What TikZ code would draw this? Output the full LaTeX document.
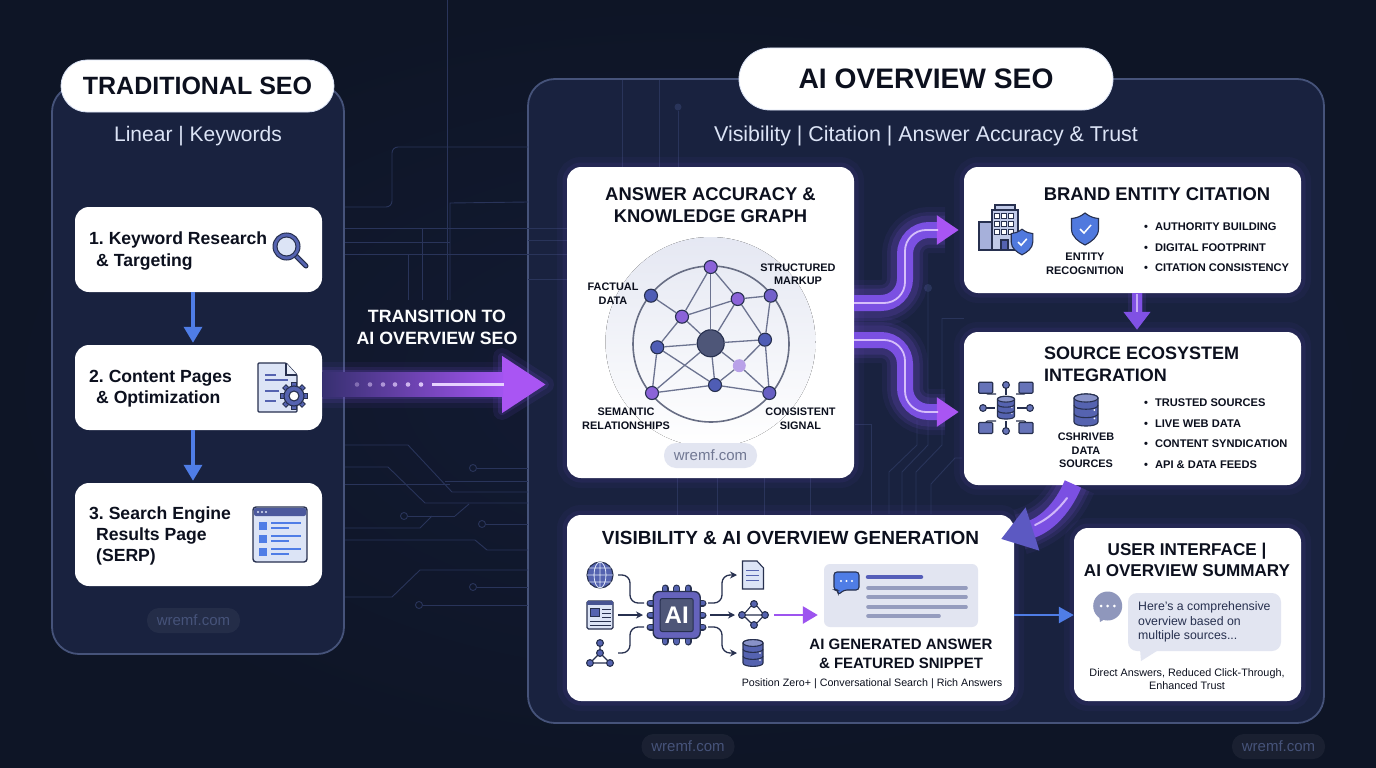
\documentclass[tikz,border=0pt]{standalone}
\usepackage{fontspec}
\setmainfont{Liberation Sans}
\frenchspacing
\usepackage{xcolor}
\usetikzlibrary{arrows.meta,shapes.geometric,positioning}

\definecolor{bgdark}{HTML}{0E1526}
\definecolor{bgmid}{HTML}{131B34}
\definecolor{panelfill}{HTML}{19223F}
\definecolor{panelline}{HTML}{46537A}
\definecolor{traceline}{HTML}{29345A}
\definecolor{inkdark}{HTML}{0C101E}
\definecolor{iconink}{HTML}{27304F}
\definecolor{iconblue}{HTML}{5563B0}
\definecolor{iconpale}{HTML}{DCE4F6}
\definecolor{stepblue}{HTML}{4F7DE6}
\definecolor{flowpurple}{HTML}{7B50E2}
\definecolor{flowhead}{HTML}{A955F3}
\definecolor{flowcore}{HTML}{E6D2FF}
\definecolor{nodepurple}{HTML}{8B63D8}
\definecolor{nodeblue}{HTML}{4F5DB5}
\definecolor{hubgrey}{HTML}{4E5678}
\definecolor{softgrey}{HTML}{E2E5F1}

\tikzset{
    lab/.style 2 args={font=\bfseries\fontsize{#1}{#2}\selectfont, inner sep=0pt, text=inkdark, align=center},
    plain/.style 2 args={font=\fontsize{#1}{#2}\selectfont, inner sep=0pt, text=inkdark, align=center},
    panel/.style={draw=panelline, line width=1.8pt, fill=panelfill, rounded corners=27pt},
    card/.style={fill=white, rounded corners=14pt, inner sep=0pt},
    glowcard/.style={card, preaction={draw=flowpurple, draw opacity=.05, line width=20pt}, preaction={draw=flowpurple, draw opacity=.08, line width=9pt}},
    pill/.style={fill=white, draw=iconpale, line width=.8pt, inner sep=0pt},
    wmark/.style={fill=white, fill opacity=.05, text opacity=1, rounded corners=12pt, minimum width=93pt, minimum height=25pt, inner sep=0pt, text=panelline, font=\fontsize{15}{15}\selectfont},
    trace/.style={draw=traceline, line width=.9pt},
    tracedot/.style={draw=traceline, line width=.9pt, circle, minimum size=7pt, inner sep=0pt},
    stepflow/.style={draw=stepblue, line width=3.5pt, shorten >=2pt, -{Triangle[length=16pt,width=18pt]}},
    flowpipe/.style={draw=flowpurple, line width=16pt, rounded corners=24pt, -{Triangle[length=22pt,width=28pt,fill=flowhead,color=flowhead]}},
    flowthin/.style={draw=flowcore, line width=1.8pt, draw opacity=.85, rounded corners=21pt},
    gnode/.style={circle, draw=iconink, line width=1.1pt, minimum size=13pt, inner sep=0pt},
    iconline/.style={draw=iconink, line width=1.1pt},
    smallflow/.style={draw=iconink, line width=1.3pt, rounded corners=8pt},
    pics/dbicon/.style={code={
        \path[iconline, fill=iconblue] (-10,-10) -- (-10,10) .. controls (-10,14.5) and (10,14.5) .. (10,10) -- (10,-10) .. controls (10,-14.5) and (-10,-14.5) .. (-10,-10) -- cycle;
        \path[iconline, fill=iconblue!70!white] (0,-10) ellipse[x radius=10, y radius=3.4];
        \foreach \t in {-4,3} {
            \draw[iconline] (-10,\t) .. controls (-10,\t+4.5) and (10,\t+4.5) .. (10,\t);
            \fill[white] (7,\t+4) circle[radius=.8];
        }
    }},
    pics/shieldicon/.style={code={
        \path[iconline, fill=stepblue!85!iconblue] (0,-16) .. controls (5,-12) and (9,-11) .. (13.5,-10.5) -- (13.5,0) .. controls (13.5,8) and (6,13) .. (0,16) .. controls (-6,13) and (-13.5,8) .. (-13.5,0) -- (-13.5,-10.5) .. controls (-9,-11) and (-5,-12) .. (0,-16) -- cycle;
        \draw[white, line width=1.5pt] (-5,0) -- (-1,4) -- (6,-4);
    }},
    pics/nodetrio/.style={code={
        \draw[iconline] (0,-10) -- (0,0) -- (-10,10) -- (10,10) -- (0,0);
        \foreach \p in {(0,-10),(0,0),(-10,10),(10,10)}
            \path[iconline, fill=iconblue] \p circle[radius=3.4];
    }}
}

\begin{document}
\begin{tikzpicture}[x=1pt,y=-1pt]
    \useasboundingbox (0,0) rectangle (1376,768);
    \fill[inner color=bgmid, outer color=bgdark] (0,0) rectangle (1376,768);

    % ends of the big connectors
    \coordinate (trstart) at (322,384.5);
    \coordinate (trend) at (546,384.5);
    \coordinate (kout1) at (854,303);
    \coordinate (kout2) at (854,340);
    \coordinate (srcout) at (1073,484);
    \coordinate (vistip) at (1001,539);

    \node[panel, minimum width=292pt, minimum height=569pt] (leftpanel) at (198,369.5) {};
    \node[panel, minimum width=796pt, minimum height=644pt] (rightpanel) at (926,401) {};

    % circuit traces
    \draw[trace] (447,0) -- (447,300);
    \draw[trace, rounded corners=6pt] (345,207) -- (392,207) -- (392,147) -- (528,147);
    \draw[trace] (450,300) -- (450,203) -- (528,202);
    \foreach \y in {228,254} \draw[trace] (345,\y) -- (567,\y);
    \foreach \y in {240,279} \draw[trace] (528,\y) -- (567,\y);
    \draw[trace] (345,242) -- (450,242);
    \draw[trace] (422,228) -- (422,300);
    \draw[trace] (408,254) -- (408,300);
    \foreach \x in {622,659} \draw[trace] (\x,80) -- (\x,167);
    \node[fill=traceline, circle, minimum size=7pt, inner sep=0pt] (panelpin) at (678,107) {};
    \draw[trace] (panelpin) -- (678,167);
    \draw[trace] (345,445) -- (408,445) -- (452,492) -- (528,492);
    \draw[trace] (345,467) -- (388,467) -- (425,503) -- (528,503);
    \draw[trace] (345,484) -- (450,484);
    \draw[trace] (445,481) -- (528,481);
    \draw[trace] (345,528) -- (420,528) -- (432,516);
    \draw[trace] (345,540) -- (475,540) -- (487,550) -- (528,550);
    \draw[trace] (345,597) -- (392,597) -- (420,570) -- (528,570);
    \foreach \n/\x/\y/\e in {p1/473/468/528,p2/404/516/455,p3/482/524/528,p4/473/587/528,p5/419/605/528} {
        \node[tracedot] (\n) at (\x,\y) {};
        \draw[trace] (\n) -- (\e,\y);
    }
    \draw[trace] (455,516) -- (469,504);
    \foreach \x in {677,717,764,810} \draw[trace] (\x,478) -- (\x,515);
    \foreach \x/\xa/\xb/\ya in {928/902/928/288,917/889/917/420,942/916/942/318} \draw[trace] (\xb,\ya) -- (\xb,445) -- (\xa,472) -- (\xa,514);
    \node[fill=traceline, circle, minimum size=8pt, inner sep=0pt] (bridgepin) at (928,288) {};
    \draw[trace] (942,318) -- (964,318);
    \draw[trace] (962,458) -- (955,458) -- (931,484) -- (931,514);
    \draw[trace] (855,424) -- (871,424) -- (871,514);

    % glow below the flows
    \foreach \w/\o in {46/.07,36/.12,29/.16} {
        \draw[flowpurple, line width=\w pt, opacity=\o] (trstart) -- (505,384.5);
        \draw[flowpurple, line width=\w pt, opacity=\o, rounded corners=24pt] (kout1) -- (905,303) -- (905,230) -- (945,230);
        \draw[flowpurple, line width=\w pt, opacity=\o, rounded corners=24pt] (kout2) -- (905,340) -- (905,412) -- (945,412);
        \draw[flowpurple, line width=\w pt, opacity=\o] (srcout) .. controls (1062,510) and (1045,525) .. (1020,532);
    }
    \foreach \w/\o in {18/.10,8/.16}
        \path[fill=flowpurple, draw=flowpurple, line width=\w pt, line join=round, opacity=\o] (502,357) -- (545,384.5) -- (502,411) -- cycle;

    % titles
    \node[pill, rounded corners=26pt, minimum width=273pt, minimum height=52pt, lab={25}{25}] (tradtitle) at (197.5,86) {TRADITIONAL SEO};
    \node[pill, rounded corners=31pt, minimum width=374pt, minimum height=62pt, lab={28.2}{28.2}] (aititle) at (926,79) {AI OVERVIEW SEO};
    \node[plain={21}{21}, text=iconpale] (tradsub) at (198,136) {Linear | Keywords};
    \node[plain={21.4}{21.4}, text=iconpale] (aisub) at (926,136) {Visibility | Citation | Answer Accuracy \& Trust};

    % left column
    \node[card, minimum width=247pt, minimum height=85pt] (step1) at (198.5,249.5) {};
    \node[card, minimum width=247pt, minimum height=85pt] (step2) at (198.5,387.5) {};
    \node[card, minimum width=247pt, minimum height=103pt] (step3) at (198.5,534.5) {};
    \node[lab={17.6}{21.5}, align=left, anchor=west] (step1txt) at (89,251) {1. Keyword Research\\\hspace*{7pt}\& Targeting};
    \node[lab={17.6}{21.5}, align=left, anchor=west] (step2txt) at (89,388.5) {2. Content Pages\\\hspace*{7pt}\& Optimization};
    \node[lab={17.6}{21}, align=left, anchor=west] (step3txt) at (89,536) {3. Search Engine\\\hspace*{7pt}Results Page\\\hspace*{7pt}(SERP)};
    \draw[stepflow] ([xshift=-5.5pt]step1.south) -- ([xshift=-5.5pt]step2.north);
    \draw[stepflow] ([xshift=-5.5pt]step2.south) -- ([xshift=-5.5pt]step3.north);
    \node[wmark] (wmleft) at (193.5,620.5) {wremf.com};

    % magnifier
    \draw[iconink, line width=5pt, line cap=round] (295,255) -- (306,266);
    \draw[iconblue, line width=2.8pt, line cap=round] (295,255) -- (306,266);
    \path[draw=iconink, line width=1pt, fill=iconblue] (286.5,246.5) circle[radius=13.5];
    \path[draw=iconink, line width=1pt, fill=iconpale] (286.5,246.5) circle[radius=9.5];

    % page with gear
    \path[iconline, line width=1.3pt, fill=iconpale, rounded corners=1pt] (258,363) -- (286,363) -- (297,375) -- (297,412) -- (258,412) -- cycle;
    \path[iconline, fill=iconpale!60] (286,363) -- (286,375) -- (297,375);
    \foreach \y/\e in {375/276,380/288,391/279,401/276} \draw[iconblue, line width=1.4pt] (265,\y) -- (\e,\y);
    \foreach \a in {0,45,...,315} \draw[iconink, line width=5.5pt] (294,396) ++(\a:10) -- ++(\a:4);
    \foreach \a in {0,45,...,315} \draw[iconblue, line width=3.5pt] (294,396) ++(\a:10) -- ++(\a:3.2);
    \path[draw=iconink, line width=1.1pt, fill=iconblue] (294,396) circle[radius=10];
    \path[draw=iconink, line width=1.1pt, fill=white] (294,396) circle[radius=5];

    % results window
    \path[iconline, line width=1.4pt, fill=iconpale, rounded corners=3pt] (253,507) rectangle (307,562);
    \path[fill=iconblue!80!iconink, rounded corners=2pt] (254,508) rectangle (306,516);
    \foreach \x in {258,262,266} \fill[iconpale] (\x,512) circle[radius=1.1];
    \foreach \y in {526,539,552} {
        \fill[stepblue] (259,\y-4) rectangle (267,\y+4);
        \draw[stepblue, line width=1.3pt] (271,\y-3) -- (301,\y-3);
        \draw[stepblue, line width=1.3pt] (271,\y+2) -- (289,\y+2);
    }

    % transition
    \node[lab={17.8}{22}, text=white!92!iconpale] (trlabel) at (437,327.5) {TRANSITION TO\\AI OVERVIEW SEO};
    \draw[draw=flowhead, line width=24pt, -{Triangle[length=44pt,width=54pt,fill=flowhead,color=flowhead]}] (trstart) -- (trend);
    \fill[left color=flowpurple!30!panelfill, right color=flowhead!85!flowpurple] (322,372.5) rectangle (503,396.5);
    \foreach \x/\o in {357/.35,370/.5,383/.6,395/.7,408/.8,421/.9} \fill[flowcore, opacity=\o] (\x,384.5) circle[radius=2.3];
    \draw[flowcore, line width=2.2pt] (432,384.5) -- (504,384.5);

    % knowledge graph card
    \node[glowcard, minimum width=287pt, minimum height=311pt] (know) at (710.5,322.5) {};
    \node[lab={18.4}{22.5}, anchor=north] (knowtitle) at (710.5,187) {ANSWER ACCURACY \&\\KNOWLEDGE GRAPH};
    \fill[top color=softgrey!90, bottom color=white] (710.5,342) circle[radius=105];
    \draw[draw=iconink!70!white, line width=1.6pt] (711,344) circle[radius=78];
    \foreach \n/\x/\y/\c in {n1/710.7/267/nodepurple,n2/737.7/299/nodepurple,n3/770.7/295.7/nodepurple!60!nodeblue,n4/651/295.7/nodeblue,n5/682/316.7/nodepurple,n6/657.3/347.3/nodeblue,n7/765/339.7/nodeblue,n9/715/385/nodeblue,n10/652/393/nodepurple,n11/769.3/393/nodepurple!40!nodeblue}
        \node[gnode, fill=\c] (\n) at (\x,\y) {};
    \node[circle, fill=nodepurple!60!white, minimum size=13pt, inner sep=0pt] (n8) at (739.3,365.7) {};
    \node[circle, draw=iconink, line width=1.1pt, fill=hubgrey, minimum size=27pt, inner sep=0pt] (hub) at (710.7,343.3) {};
    \foreach \a/\b in {n1/n5,n1/hub,n1/n2,n2/n3,n2/n5,n2/hub,n2/n7,n3/n7,n7/n11,n7/n8,n7/hub,n4/n5,n5/hub,n5/n6,n6/hub,n6/n10,n6/n9,n10/hub,n10/n9,n9/hub,n9/n8,n9/n11,n8/n11,hub/n8}
        \draw[draw=hubgrey!80!softgrey, line width=1.3pt] (\a) -- (\b);
    \node[lab={10.9}{13.5}] (lfact) at (613,293.5) {FACTUAL\\DATA};
    \node[lab={10.9}{13.5}] (lstruct) at (798,274) {STRUCTURED\\MARKUP};
    \node[lab={10.9}{13.5}] (lsem) at (626,418.5) {SEMANTIC\\RELATIONSHIPS};
    \node[lab={10.9}{13.5}] (lcons) at (800.5,418.5) {CONSISTENT\\SIGNAL};
    \node[fill=softgrey, rounded corners=12pt, minimum width=93pt, minimum height=25pt, inner sep=0pt, text=hubgrey!80!white, font=\fontsize{15}{15}\selectfont] (wmcard) at (710.5,455.5) {wremf.com};

    % brand card
    \node[glowcard, minimum width=337pt, minimum height=126pt] (brand) at (1132.5,230) {};
    \node[lab={18.4}{18.4}] (brandtitle) at (1157,194.5) {BRAND ENTITY CITATION};
    \path[iconline, fill=iconpale!80!iconblue] (995,205) rectangle (1015,210);
    \path[iconline, fill=iconpale!80!iconblue] (992,210) rectangle (1018,250);
    \path[iconline, fill=iconpale!60!iconblue] (979,222) rectangle (992,250);
    \foreach \x in {997,1004,1011} \foreach \y in {216,224,232} \path[iconline, line width=.7pt, fill=white] (\x-2.4,\y-2.4) rectangle (\x+2.4,\y+2.4);
    \path[iconline, fill=iconblue] (1001,240) rectangle (1008,250);
    \draw[iconline, line width=1.3pt] (978,250) -- (1016,250);
    \pic[scale=.8] at (1022,242) {shieldicon};
    \pic at (1085,229) {shieldicon};
    \node[lab={11}{14}] (brandrec) at (1085,264) {ENTITY\\RECOGNITION};
    \foreach \n/\y/\t in {b1/227/AUTHORITY BUILDING,b2/247.5/DIGITAL FOOTPRINT,b3/268/CITATION CONSISTENCY}
        \node[lab={11.1}{11.1}, anchor=west] (\n) at (1144,\y) {\textbullet\hspace{7pt}\t};

    % source card
    \node[glowcard, minimum width=337pt, minimum height=153pt] (source) at (1132.5,408.5) {};
    \node[lab={18}{22}, align=left, anchor=north west] (sourcetitle) at (1044,346.5) {SOURCE ECOSYSTEM\\INTEGRATION};
    \foreach \x/\y/\xa/\ya in {985.7/387.7/996/394,1026/387.7/1016/394,985.7/428/996/421,1026/428/1016/421} {
        \draw[iconline, rounded corners=2pt] (\x,\y) -- (\x,\ya) -- (\xa,\ya);
        \path[iconline, fill=iconblue!90!white, rounded corners=1pt] (\x-7,\y-5.5) rectangle (\x+7,\y+5.5);
    }
    \foreach \x/\y/\xa/\ya in {1006/385/1006/395,1006/431/1006/421,983/408/995/408,1030/408/1017/408} {
        \draw[iconline] (\x,\y) -- (\xa,\ya);
        \path[iconline, fill=iconblue!90!white] (\x,\y) circle[radius=3.4];
    }
    \pic[scale=.85] at (1006,407.7) {dbicon};
    \pic[scale=1.2] at (1086,410) {dbicon};
    \node[lab={10.9}{13.5}] (sourcelabel) at (1086,450.5) {CSHRIVEB\\DATA\\SOURCES};
    \foreach \n/\y/\t in {s1/403/TRUSTED SOURCES,s2/423.5/LIVE WEB DATA,s3/444/CONTENT SYNDICATION,s4/464.5/API \& DATA FEEDS}
        \node[lab={11.1}{11.1}, anchor=west] (\n) at (1144,\y) {\textbullet\hspace{7pt}\t};

    % generation card
    \node[glowcard, minimum width=447pt, minimum height=186pt] (vis) at (790.5,608) {};
    \node[lab={19}{19}] (vistitle) at (790.5,538) {VISIBILITY \& AI OVERVIEW GENERATION};
    \path[iconline, fill=iconblue] (600,575) circle[radius=13];
    \draw[iconpale, line width=.8pt] (587,575) -- (613,575) (589,568) -- (611,568) (589,582) -- (611,582) (600,562) -- (600,588) (600,575) ellipse[x radius=6, y radius=13];
    \path[iconline, fill=iconpale, rounded corners=1.5pt] (587,601) rectangle (613,629);
    \fill[iconblue!70!iconink] (587,601) rectangle (613,605);
    \path[iconline, line width=.7pt, fill=iconblue] (590,608) rectangle (599,616);
    \foreach \y in {609,613,617} \draw[iconink, line width=.9pt] (602,\y) -- (611,\y);
    \draw[iconink, line width=.9pt] (590,621) -- (611,621) (590,625) -- (611,625);
    \pic at (600,653) {nodetrio};

    % chip
    \foreach \v in {665,676.7,688} {
        \draw[iconink, line width=7pt, line cap=round] (\v,588) -- (\v,642);
        \draw[iconblue, line width=4.6pt, line cap=round] (\v,588) -- (\v,642);
    }
    \foreach \v in {603,615,627} {
        \draw[iconink, line width=7pt, line cap=round] (650,\v) -- (703,\v);
        \draw[iconblue, line width=4.6pt, line cap=round] (650,\v) -- (703,\v);
    }
    \node[draw=iconink, line width=1.4pt, fill=iconblue!70!nodepurple, rounded corners=6pt, minimum size=47pt, inner sep=0pt] (chipbody) at (676.7,615) {};
    \node[draw=iconink, line width=1pt, fill=hubgrey, rounded corners=2pt, minimum size=33pt, inner sep=0pt, text=white, font=\bfseries\fontsize{24}{24}\selectfont] (chip) at (676.7,615) {AI};

    \draw[iconline, line width=1.1pt, fill=iconpale] (742.5,561) -- (757,561) -- (763.5,568) -- (763.5,589) -- (742.5,589) -- cycle;
    \foreach \y in {570,575,580} \draw[iconblue, line width=1pt] (746,\y) -- (759,\y);
    \foreach \p in {(742,615),(765,615),(754,604),(754,625)} \path[iconline, fill=iconblue] \p circle[radius=3.4];
    \draw[iconline] (745,615) -- (762,615) (745,613) -- (751,606) (757,606) -- (762.5,613) (745,617) -- (751,623) (757,623) -- (762.5,617);
    \pic at (753,653) {dbicon};

    \foreach \n/\x/\y in {inA/618/575,inB/618/615,inC/618/653,outA/708/603,outB/710/615,outC/708/627,pinA/644/603,pinB/643/615,pinC/644/627,docA/737/575,docB/735/615,docC/737/653}
        \coordinate (\n) at (\x,\y);
    \draw[smallflow] (inA) -- (630,575) -- (630,603) -- (pinA);
    \draw[smallflow, -{Stealth[length=7pt,width=7pt]}] (inB) -- (pinB);
    \draw[smallflow] (inC) -- (630,653) -- (630,627) -- (pinC);
    \draw[smallflow, -{Stealth[length=7pt,width=7pt]}] (outA) -- (722,603) -- (722,575) -- (docA);
    \draw[smallflow, -{Stealth[length=7pt,width=7pt]}] (outB) -- (docB);
    \draw[smallflow, -{Stealth[length=7pt,width=7pt]}] (outC) -- (722,627) -- (722,653) -- (docC);

    \node[fill=softgrey, rounded corners=6pt, minimum width=154pt, minimum height=63pt, inner sep=0pt] (snippet) at (901,595.5) {};
    \coordinate (snipin) at (774,615);
    \draw[draw=flowhead!75!flowpurple, line width=2.6pt, shorten >=6pt, -{Triangle[length=15pt,width=17pt]}] (snipin) -- (snippet.west |- snipin);
    \path[iconline, line width=1.1pt, fill=stepblue, rounded corners=3pt] (834,572) -- (859,572) -- (859,590) -- (844,590) -- (838,595) -- (838,590) -- (834,590) -- cycle;
    \foreach \x in {841,846.5,852} \fill[white] (\x,581) circle[radius=1.1];
    \draw[nodeblue!90!nodepurple, line width=4.5pt, line cap=round] (868,577) -- (921,577);
    \foreach \y/\e in {588/966,597/966,607/966,616/939} \draw[iconblue!35!softgrey!80!iconink, line width=3.6pt, line cap=round] (868,\y) -- (\e,\y);
    \node[lab={15}{19.5}] (snippettxt) at (901,654) {AI GENERATED ANSWER\\\& FEATURED SNIPPET};
    \node[plain={10.7}{12}] (vislabel) at (872,684) {Position Zero+ | Conversational Search | Rich Answers};

    % interface card
    \node[glowcard, minimum width=227pt, minimum height=173pt] (ui) at (1187.5,614.5) {};
    \node[lab={17.1}{20.5}] (uititle) at (1187,560) {USER INTERFACE |\\AI OVERVIEW SUMMARY};
    \path[fill=iconblue!40!softgrey!80!iconink] (1107.7,606) circle[radius=14.5];
    \path[fill=iconblue!40!softgrey!80!iconink] (1099,615) -- (1100,622) -- (1110,616) -- cycle;
    \foreach \x in {1101,1107.7,1114.4} \fill[white] (\x,606) circle[radius=1.5];
    \path[fill=softgrey, rounded corners=9pt] (1128,593) rectangle (1281,651);
    \path[fill=softgrey] (1140,649) -- (1141,661) -- (1160,649) -- cycle;
    \node[plain={12.3}{14.5}, align=left, anchor=west, text=iconink] (uibubble) at (1138,622) {Here's a comprehensive\\overview based on\\multiple sources...};
    \node[plain={10.8}{13}] (uicaption) at (1187,679.5) {Direct Answers, Reduced Click-Through,\\Enhanced Trust};

    % flows
    \draw[flowpipe, shorten >=5pt] (kout1) -- (905,303) -- (905,230) -- (brand.west);
    \draw[flowthin] (kout1) -- (905,303) -- (905,230) -- (938,230);
    \draw[flowpipe, shorten >=5pt] (kout2) -- (905,340) -- (905,412) -- (source.west |- 905,412);
    \draw[flowthin] (kout2) -- (905,340) -- (905,412) -- (938,412);
    \foreach \w/\o in {18/.12,11/.25} \draw[flowpurple, line width=\w pt, opacity=\o] (brand.south -| 1137,0) -- (1137,318);
    \draw[draw=flowpurple!90!flowhead, line width=10pt, -{Triangle[length=18pt,width=26pt]}, shorten >=2pt] (brand.south -| 1137,0) -- (source.north -| 1137,0);
    \draw[flowcore, line width=1.4pt, opacity=.7] (1137,294) -- (1137,312);
    \draw[draw=flowpurple, line width=18pt, -{Triangle[length=33pt,width=43pt,fill=nodeblue!70!flowpurple,color=nodeblue!70!flowpurple]}] (srcout) .. controls (1062,510) and (1045,525) .. (vistip);
    \draw[flowcore!80!flowpurple, line width=2pt, line cap=round] (1067,498) .. controls (1058,510) and (1048,519) .. (1035,525);
    \draw[draw=stepblue, line width=2.6pt, -{Triangle[length=15pt,width=16pt]}] (vis.east |- 0,615) -- (ui.west |- 0,615);

    % bottom marks
    \node[wmark] (wmmid) at (688,746.5) {wremf.com};
    \node[wmark] (wmright) at (1278.5,746.5) {wremf.com};
\end{tikzpicture}
\end{document}
